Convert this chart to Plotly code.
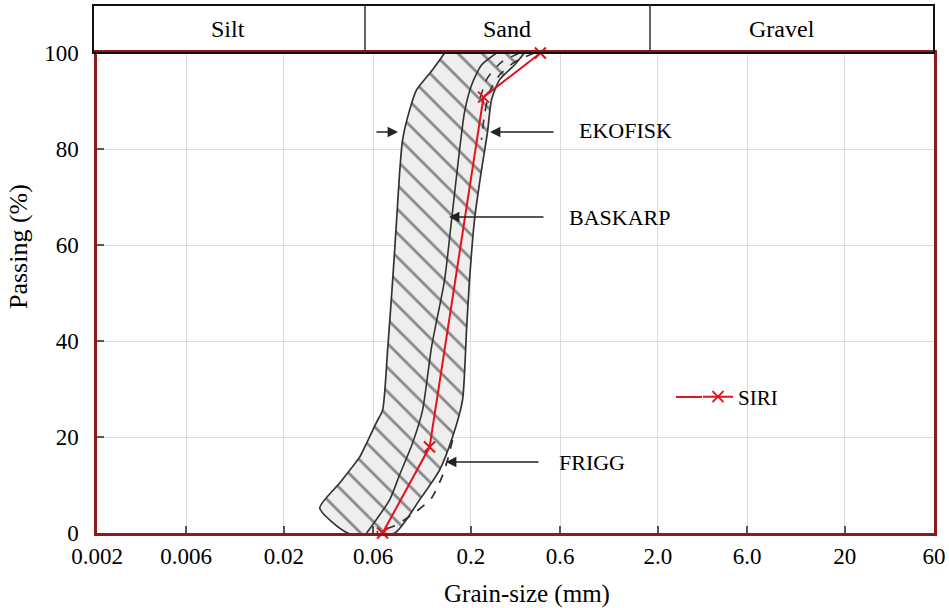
import plotly.graph_objects as go

# ---------------- data ----------------
x_tick_vals = [0.002, 0.006, 0.02, 0.06, 0.2, 0.6, 2, 6, 20, 60]
x_tick_text = ["0.002", "0.006", "0.02", "0.06", "0.2", "0.6", "2.0", "6.0", "20", "60"]
y_tick_vals = [0, 20, 40, 60, 80, 100]

# EKOFISK envelope (hatched band)
ekofisk_left_x = [0.1446, 0.1247, 0.1024, 0.0940, 0.0862, 0.0831, 0.0801, 0.0763, 0.0717, 0.0674, 0.0626, 0.0554, 0.0508, 0.0397, 0.0311, 0.0438]
ekofisk_left_y = [100, 96.5, 92.3, 88.1, 81.9, 75.0, 65.2, 52.7, 38.1, 25.6, 23.1, 18.75, 15.8, 10.4, 5.2, 0]
ekofisk_right_x = [0.0782, 0.1063, 0.1359, 0.1595, 0.1804, 0.1895, 0.1966, 0.2090, 0.2278, 0.2454, 0.2576, 0.2844, 0.3420, 0.3868]
ekofisk_right_y = [0, 6.9, 13.1, 20.0, 27.7, 42.3, 52.7, 65.2, 75.6, 83.5, 90.2, 94.4, 97.5, 100]

# BASKARP curves
baskarp_mid_x = [0.2741, 0.2278, 0.2015, 0.1849, 0.1739, 0.1576, 0.1446, 0.1232, 0.1103, 0.0975, 0.0831, 0.0735, 0.0554]
baskarp_mid_y = [100, 97.5, 93.3, 87.7, 79.8, 65.2, 52.7, 38.75, 25.6, 18.75, 12.1, 6.9, 0]
baskarp_outer_x = [0.4372, 0.3420, 0.2844, 0.2515, 0.2364, 0.2278]
baskarp_outer_y = [100, 98.1, 95.4, 91.9, 87.1, 81.9]
baskarp_inner_x = [0.3636, 0.2914, 0.2454, 0.2222]
baskarp_inner_y = [100, 98.1, 94.8, 90.2]

# FRIGG curve
frigg_x = [0.1595, 0.1500, 0.1393, 0.1232, 0.0999, 0.0782, 0.0626]
frigg_y = [19.4, 15.2, 11.5, 7.3, 4.2, 1.5, 0.2]

# SIRI
siri_x = [0.0674, 0.1202, 0.2336, 0.4707]
siri_y = [0, 17.9, 90.8, 100]

# ---------------- figure ----------------
FONT = "Liberation Serif"
DARKRED = "#8b1a1a"
GRAY = "#333333"
RED = "#e3121b"

fig = go.Figure()

band_x = ekofisk_left_x + ekofisk_right_x
band_y = ekofisk_left_y + ekofisk_right_y
fig.add_trace(go.Scatter(
    x=band_x, y=band_y, mode="lines", fill="toself",
    fillcolor="rgba(230,230,230,0.7)",
    fillpattern=dict(shape="\\", size=17, solidity=0.16, fgcolor="#222222",
                     bgcolor="rgba(238,238,238,1)"),
    line=dict(color=GRAY, width=1.7, shape="spline", smoothing=0.6),
    showlegend=False, hoverinfo="skip"))

fig.add_trace(go.Scatter(x=baskarp_mid_x, y=baskarp_mid_y, mode="lines",
                         line=dict(color=GRAY, width=1.6, shape="spline", smoothing=0.6),
                         showlegend=False))
fig.add_trace(go.Scatter(x=baskarp_outer_x, y=baskarp_outer_y, mode="lines",
                         line=dict(color=GRAY, width=1.6, dash="dash", shape="spline", smoothing=0.6),
                         showlegend=False))
fig.add_trace(go.Scatter(x=baskarp_inner_x, y=baskarp_inner_y, mode="lines",
                         line=dict(color=GRAY, width=1.6, dash="dash", shape="spline", smoothing=0.6),
                         showlegend=False))
fig.add_trace(go.Scatter(x=frigg_x, y=frigg_y, mode="lines",
                         line=dict(color=GRAY, width=1.8, dash="dash", shape="spline", smoothing=0.6),
                         showlegend=False))

fig.add_trace(go.Scatter(
    x=siri_x, y=siri_y, mode="lines+markers", name="SIRI",
    line=dict(color=RED, width=2),
    marker=dict(symbol="x-thin", size=11, line=dict(color=RED, width=2)),
    cliponaxis=False))

fig.update_xaxes(
    type="log", range=[-2.69897, 1.778151], automargin=False,
    tickvals=x_tick_vals, ticktext=x_tick_text,
    showgrid=True, gridcolor="#dcdcdc", gridwidth=1,
    showline=True, linecolor=DARKRED, linewidth=2.5, mirror=True,
    ticks="inside", ticklen=7, tickcolor="#555555", tickwidth=1.5,
    ticklabelstandoff=1,
    tickfont=dict(family=FONT, size=23, color="black"),
    zeroline=False)
fig.update_yaxes(
    range=[0, 100], tickvals=y_tick_vals, automargin=False,
    showgrid=True, gridcolor="#dcdcdc", gridwidth=1,
    showline=True, linecolor=DARKRED, linewidth=2.5, mirror=True,
    ticks="inside", ticklen=7, tickcolor="#555555", tickwidth=1.5,
    ticklabelstandoff=11,
    tickfont=dict(family=FONT, size=23, color="black"),
    zeroline=False)

W, H = 949, 608
L, R, T, B = 97, 15, 53, 75
pw = W - L - R
ph = H - T - B

def px(xp):
    return (xp - L) / pw

def py(yp):
    return (H - B - yp) / ph

shapes = [
    dict(type="rect", xref="paper", yref="paper", x0=px(93), x1=1.0, y0=1.0, y1=py(5),
         line=dict(color="#111111", width=2)),
    dict(type="line", xref="paper", yref="paper", x0=px(365), x1=px(365), y0=1.0, y1=py(5),
         line=dict(color="#333333", width=1.5)),
    dict(type="line", xref="paper", yref="paper", x0=px(650), x1=px(650), y0=1.0, y1=py(5),
         line=dict(color="#333333", width=1.5)),
    # extension of the SIRI legend sample line
    dict(type="line", xref="paper", yref="paper", x0=px(676), x1=px(702), y0=py(397), y1=py(397),
         line=dict(color=RED, width=2)),
]

annotations = []
for txt, xc in [("Silt", 228), ("Sand", 507), ("Gravel", 782)]:
    annotations.append(dict(xref="paper", yref="paper", x=px(xc), y=py(29), text=txt,
                            xanchor="center", yanchor="middle",
                            showarrow=False, font=dict(family=FONT, size=24, color="black")))

# axis titles
annotations.append(dict(xref="paper", yref="paper", x=px(527), y=py(594), text="Grain-size (mm)",
                        xanchor="center", yanchor="middle", showarrow=False,
                        font=dict(family=FONT, size=25, color="black")))
annotations.append(dict(xref="paper", yref="paper", x=px(18), y=py(247), text="Passing (%)",
                        textangle=-90, xanchor="center", yanchor="middle", showarrow=False,
                        font=dict(family=FONT, size=26, color="black")))

def arrow(tipx, tipy, dx):
    return dict(xref="paper", yref="paper", x=px(tipx), y=py(tipy), text="",
                showarrow=True, ax=dx, ay=0, arrowhead=2, arrowsize=1.3,
                arrowwidth=1.6, arrowcolor="#222222")

annotations += [
    arrow(490, 132, 65), arrow(398, 132, -23),
    arrow(449, 217, 96), arrow(446, 462, 94),
]
for txt, xl, yl in [("EKOFISK", 577, 130), ("BASKARP", 567, 217), ("FRIGG", 557, 462)]:
    annotations.append(dict(xref="paper", yref="paper", x=px(xl), y=py(yl), text=txt,
                            xanchor="left", yanchor="middle", showarrow=False,
                            font=dict(family=FONT, size=22, color="black")))

fig.update_layout(
    width=W, height=H,
    margin=dict(l=L, r=R, t=T, b=B),
    paper_bgcolor="white", plot_bgcolor="white",
    shapes=shapes, annotations=annotations,
    showlegend=True,
    legend=dict(x=px(698), y=py(397), xanchor="left", yanchor="middle",
                bgcolor="rgba(0,0,0,0)", font=dict(family=FONT, size=21, color="black")),
)

fig.write_html("out.html")
